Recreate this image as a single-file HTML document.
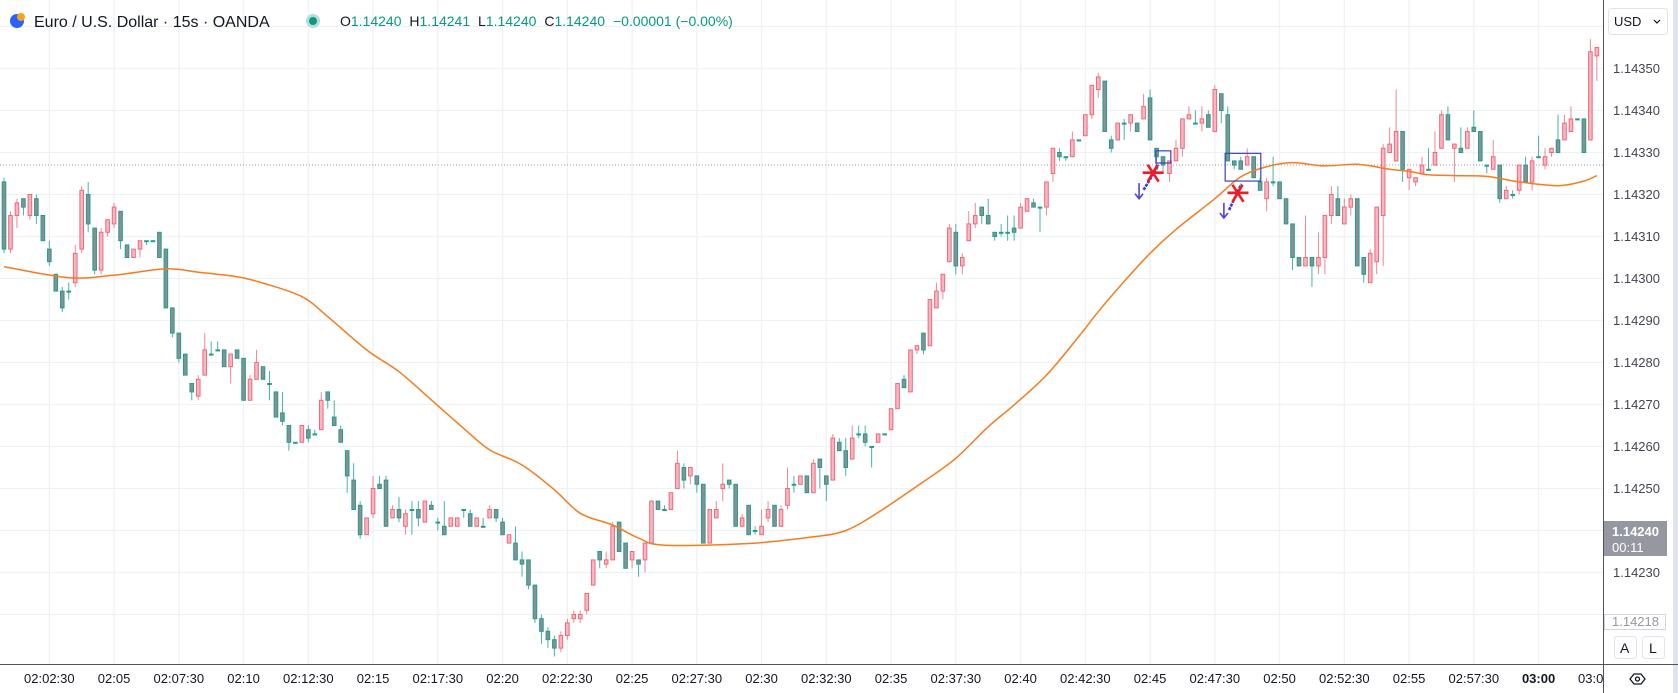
<!DOCTYPE html>
<html><head><meta charset="utf-8"><style>
html,body{margin:0;padding:0;background:#fff;overflow:hidden}
svg{display:block;font-family:"Liberation Sans",sans-serif}
</style></head><body>
<svg id="c" width="1678" height="693" viewBox="0 0 1678 693" xmlns="http://www.w3.org/2000/svg">
<rect x="0" y="0" width="1678" height="693" fill="#ffffff"/>
<g id="grid"></g>
<line x1="0" y1="165" x2="1603" y2="165" stroke="#9598a1" stroke-width="1" stroke-dasharray="1,2"/>
<g id="candles"></g>
<path id="ma" fill="none" stroke="#f57c1f" stroke-width="1.5"/>
<g id="annos"></g>
<rect x="1604" y="0" width="74" height="693" fill="#fff"/>
<rect x="1673" y="0" width="5" height="693" fill="#e0e3eb"/>
<rect x="0" y="665" width="1604" height="28" fill="#fff"/>
<line x1="1603.5" y1="0" x2="1603.5" y2="693" stroke="#50535e" stroke-width="1"/>
<line x1="0" y1="664.5" x2="1678" y2="664.5" stroke="#50535e" stroke-width="1"/>
<g id="yaxis"></g>
<g id="xaxis"></g>
<g>
<rect x="1608.5" y="8.5" width="59" height="26" rx="3" fill="#fff" stroke="#e0e3eb"/>
<text x="1614" y="26" font-size="13" fill="#131722">USD</text>
<path d="M1654 20 l3 3 l3 -3" fill="none" stroke="#131722" stroke-width="1.2"/>
</g>
<g>
<rect x="1604" y="521" width="63" height="35" fill="#9598a1"/>
<text x="1612" y="536" font-size="13" fill="#fff" font-weight="bold">1.14240</text>
<text x="1612" y="552" font-size="13" fill="#fff">00:11</text>
</g>
<g>
<rect x="1604.5" y="614.5" width="61" height="15" fill="#fff" stroke="#d1d4dc"/>
<text x="1612" y="626" font-size="13" fill="#9598a1">1.14218</text>
</g>
<g>
<rect x="1614.5" y="636.5" width="22" height="22" rx="3" fill="#fff" stroke="#e0e3eb"/>
<text x="1620" y="653" font-size="14" fill="#131722">A</text>
</g>
<g>
<rect x="1642.5" y="636.5" width="22" height="22" rx="3" fill="#fff" stroke="#e0e3eb"/>
<text x="1649" y="653" font-size="14" fill="#131722">L</text>
</g>
<g>
<path d="M1630 679 l4 -5 h7 l4 5 l-4 5 h-7 z" fill="none" stroke="#131722" stroke-width="1.3"/>
<circle cx="1637.5" cy="679" r="2" fill="none" stroke="#131722" stroke-width="1.3"/>
</g>
<g>
<circle cx="17" cy="21" r="7" fill="#2962ff"/>
<circle cx="21" cy="17" r="4" fill="#f7a21b"/>
<text x="34" y="27" font-size="16" fill="#131722">Euro / U.S. Dollar · 15s · OANDA</text>
<circle cx="313" cy="21" r="7" fill="#b2dfd9"/>
<circle cx="313" cy="21" r="4" fill="#089981"/>
<text x="340" y="26" font-size="14" fill="#089981"><tspan fill="#131722">O</tspan>1.14240 <tspan fill="#131722" dx="4">H</tspan>1.14241 <tspan fill="#131722" dx="4">L</tspan>1.14240 <tspan fill="#131722" dx="4">C</tspan>1.14240 <tspan dx="4">−0.00001 (−0.00%)</tspan></text>
</g>
</svg>
<script>
const opens=[1.14323,1.14307,1.14315,1.14319,1.14315,1.14319,1.14315,1.14307,1.14301,1.14297,1.14297,1.14299,1.14307,1.14320,1.14312,1.14302,1.14311,1.14313,1.14316,1.14308,1.14305,1.14307,1.14309,1.14309,1.14311,1.14307,1.14293,1.14287,1.14282,1.14275,1.14272,1.14277,1.14282,1.14283,1.14283,1.14279,1.14283,1.14281,1.14271,1.14276,1.14279,1.14275,1.14273,1.14268,1.14265,1.14261,1.14261,1.14264,1.14263,1.14264,1.14273,1.14267,1.14264,1.14259,1.14252,1.14246,1.14239,1.14244,1.14251,1.14252,1.14243,1.14245,1.14241,1.14245,1.14245,1.14242,1.14246,1.14242,1.14241,1.14241,1.14241,1.14245,1.14244,1.14241,1.14241,1.14243,1.14245,1.14242,1.14237,1.14237,1.14233,1.14233,1.14227,1.14219,1.14216,1.14214,1.14212,1.14215,1.14219,1.14219,1.14221,1.14227,1.14235,1.14232,1.14233,1.14242,1.14237,1.14233,1.14233,1.14233,1.14237,1.14247,1.14245,1.14245,1.14250,1.14255,1.14253,1.14253,1.14251,1.14237,1.14243,1.14250,1.14252,1.14251,1.14241,1.14246,1.14240,1.14239,1.14243,1.14246,1.14241,1.14246,1.14251,1.14251,1.14253,1.14249,1.14257,1.14253,1.14252,1.14261,1.14259,1.14257,1.14263,1.14263,1.14260,1.14261,1.14263,1.14264,1.14269,1.14276,1.14273,1.14283,1.14287,1.14284,1.14293,1.14297,1.14304,1.14311,1.14303,1.14309,1.14313,1.14317,1.14315,1.14311,1.14311,1.14311,1.14312,1.14312,1.14316,1.14318,1.14317,1.14317,1.14325,1.14330,1.14329,1.14329,1.14333,1.14334,1.14339,1.14345,1.14347,1.14333,1.14333,1.14337,1.14337,1.14337,1.14338,1.14343,1.14331,1.14329,1.14325,1.14328,1.14331,1.14338,1.14337,1.14337,1.14339,1.14335,1.14344,1.14339,1.14328,1.14328,1.14327,1.14329,1.14323,1.14319,1.14323,1.14323,1.14319,1.14313,1.14305,1.14303,1.14305,1.14303,1.14305,1.14315,1.14319,1.14313,1.14317,1.14319,1.14305,1.14299,1.14304,1.14315,1.14330,1.14328,1.14335,1.14324,1.14323,1.14325,1.14326,1.14327,1.14331,1.14339,1.14331,1.14331,1.14331,1.14336,1.14335,1.14327,1.14326,1.14327,1.14319,1.14320,1.14321,1.14327,1.14323,1.14329,1.14327,1.14330,1.14333,1.14333,1.14335,1.14338,1.14338,1.14333,1.14353];
const highs=[1.14324,1.14316,1.14319,1.14319,1.14320,1.14320,1.14315,1.14309,1.14301,1.14298,1.14299,1.14308,1.14322,1.14323,1.14312,1.14312,1.14314,1.14318,1.14316,1.14308,1.14307,1.14309,1.14309,1.14309,1.14311,1.14307,1.14293,1.14287,1.14282,1.14275,1.14277,1.14287,1.14285,1.14285,1.14283,1.14282,1.14283,1.14281,1.14277,1.14283,1.14279,1.14278,1.14273,1.14273,1.14265,1.14261,1.14265,1.14265,1.14264,1.14273,1.14273,1.14271,1.14265,1.14259,1.14256,1.14247,1.14243,1.14253,1.14253,1.14253,1.14246,1.14248,1.14245,1.14247,1.14247,1.14247,1.14247,1.14243,1.14247,1.14243,1.14243,1.14245,1.14245,1.14243,1.14243,1.14246,1.14245,1.14243,1.14239,1.14241,1.14235,1.14233,1.14227,1.14220,1.14217,1.14215,1.14216,1.14219,1.14221,1.14221,1.14225,1.14233,1.14235,1.14235,1.14242,1.14242,1.14237,1.14235,1.14233,1.14237,1.14247,1.14247,1.14246,1.14249,1.14259,1.14256,1.14255,1.14253,1.14251,1.14245,1.14247,1.14256,1.14252,1.14251,1.14244,1.14246,1.14241,1.14245,1.14247,1.14246,1.14246,1.14255,1.14253,1.14253,1.14253,1.14257,1.14257,1.14253,1.14263,1.14262,1.14262,1.14265,1.14265,1.14265,1.14260,1.14263,1.14263,1.14269,1.14275,1.14277,1.14283,1.14284,1.14287,1.14295,1.14299,1.14301,1.14313,1.14313,1.14306,1.14316,1.14318,1.14317,1.14319,1.14311,1.14313,1.14315,1.14315,1.14318,1.14319,1.14319,1.14317,1.14323,1.14331,1.14331,1.14329,1.14335,1.14333,1.14339,1.14346,1.14349,1.14347,1.14334,1.14337,1.14338,1.14339,1.14337,1.14344,1.14345,1.14331,1.14329,1.14328,1.14333,1.14338,1.14341,1.14340,1.14341,1.14340,1.14346,1.14344,1.14341,1.14328,1.14329,1.14331,1.14329,1.14324,1.14324,1.14329,1.14323,1.14319,1.14313,1.14305,1.14315,1.14305,1.14311,1.14315,1.14322,1.14322,1.14319,1.14320,1.14319,1.14305,1.14307,1.14317,1.14332,1.14336,1.14345,1.14335,1.14326,1.14324,1.14329,1.14331,1.14335,1.14340,1.14341,1.14332,1.14336,1.14336,1.14340,1.14335,1.14327,1.14333,1.14327,1.14322,1.14321,1.14327,1.14329,1.14329,1.14334,1.14331,1.14331,1.14339,1.14339,1.14341,1.14338,1.14338,1.14357,1.14355];
const lows=[1.14306,1.14306,1.14312,1.14315,1.14314,1.14313,1.14309,1.14303,1.14297,1.14292,1.14295,1.14298,1.14306,1.14311,1.14301,1.14301,1.14310,1.14312,1.14307,1.14305,1.14305,1.14305,1.14308,1.14309,1.14305,1.14293,1.14286,1.14280,1.14277,1.14271,1.14271,1.14277,1.14282,1.14283,1.14279,1.14275,1.14281,1.14271,1.14271,1.14276,1.14276,1.14271,1.14267,1.14265,1.14259,1.14261,1.14261,1.14261,1.14263,1.14264,1.14269,1.14265,1.14261,1.14249,1.14245,1.14238,1.14239,1.14243,1.14250,1.14241,1.14243,1.14242,1.14239,1.14239,1.14241,1.14242,1.14245,1.14240,1.14239,1.14241,1.14241,1.14243,1.14241,1.14241,1.14241,1.14243,1.14242,1.14239,1.14237,1.14233,1.14229,1.14226,1.14218,1.14213,1.14212,1.14210,1.14211,1.14214,1.14218,1.14218,1.14220,1.14227,1.14231,1.14231,1.14233,1.14235,1.14231,1.14231,1.14229,1.14230,1.14237,1.14245,1.14245,1.14245,1.14250,1.14250,1.14251,1.14249,1.14237,1.14237,1.14243,1.14247,1.14250,1.14241,1.14241,1.14239,1.14239,1.14239,1.14242,1.14241,1.14241,1.14245,1.14249,1.14251,1.14249,1.14249,1.14250,1.14247,1.14252,1.14259,1.14253,1.14257,1.14262,1.14260,1.14255,1.14261,1.14263,1.14264,1.14269,1.14274,1.14273,1.14282,1.14282,1.14284,1.14293,1.14295,1.14304,1.14301,1.14301,1.14309,1.14312,1.14313,1.14313,1.14309,1.14310,1.14309,1.14309,1.14312,1.14316,1.14317,1.14311,1.14315,1.14323,1.14328,1.14328,1.14329,1.14333,1.14334,1.14338,1.14343,1.14335,1.14330,1.14333,1.14333,1.14335,1.14335,1.14338,1.14333,1.14327,1.14325,1.14323,1.14328,1.14329,1.14338,1.14337,1.14335,1.14336,1.14335,1.14337,1.14328,1.14326,1.14326,1.14327,1.14324,1.14321,1.14316,1.14322,1.14319,1.14313,1.14302,1.14303,1.14303,1.14298,1.14301,1.14301,1.14313,1.14315,1.14313,1.14315,1.14303,1.14299,1.14299,1.14301,1.14303,1.14330,1.14328,1.14323,1.14321,1.14322,1.14325,1.14326,1.14327,1.14331,1.14333,1.14323,1.14330,1.14331,1.14335,1.14328,1.14325,1.14326,1.14318,1.14319,1.14319,1.14320,1.14323,1.14321,1.14329,1.14326,1.14329,1.14330,1.14333,1.14335,1.14338,1.14330,1.14333,1.14347];
const closes=[1.14307,1.14315,1.14318,1.14317,1.14320,1.14315,1.14309,1.14304,1.14297,1.14293,1.14297,1.14306,1.14321,1.14313,1.14302,1.14311,1.14314,1.14317,1.14309,1.14305,1.14307,1.14309,1.14309,1.14309,1.14305,1.14293,1.14287,1.14281,1.14277,1.14273,1.14276,1.14283,1.14282,1.14283,1.14279,1.14282,1.14281,1.14271,1.14276,1.14280,1.14276,1.14275,1.14267,1.14266,1.14261,1.14261,1.14265,1.14262,1.14263,1.14271,1.14271,1.14265,1.14261,1.14253,1.14245,1.14239,1.14243,1.14250,1.14250,1.14241,1.14245,1.14243,1.14244,1.14245,1.14243,1.14247,1.14245,1.14242,1.14239,1.14243,1.14243,1.14245,1.14241,1.14243,1.14241,1.14245,1.14243,1.14239,1.14239,1.14233,1.14232,1.14227,1.14219,1.14216,1.14214,1.14212,1.14215,1.14218,1.14220,1.14220,1.14225,1.14233,1.14233,1.14233,1.14241,1.14235,1.14231,1.14235,1.14232,1.14237,1.14247,1.14245,1.14245,1.14249,1.14256,1.14252,1.14255,1.14251,1.14237,1.14245,1.14245,1.14251,1.14251,1.14241,1.14243,1.14239,1.14240,1.14241,1.14245,1.14241,1.14245,1.14250,1.14251,1.14253,1.14249,1.14256,1.14255,1.14251,1.14262,1.14259,1.14255,1.14262,1.14263,1.14261,1.14260,1.14263,1.14263,1.14269,1.14275,1.14274,1.14283,1.14284,1.14283,1.14295,1.14297,1.14301,1.14312,1.14303,1.14305,1.14313,1.14315,1.14315,1.14313,1.14310,1.14311,1.14311,1.14311,1.14317,1.14319,1.14317,1.14317,1.14323,1.14331,1.14329,1.14329,1.14333,1.14333,1.14339,1.14346,1.14348,1.14335,1.14331,1.14337,1.14337,1.14339,1.14335,1.14341,1.14333,1.14329,1.14327,1.14328,1.14331,1.14338,1.14339,1.14337,1.14338,1.14336,1.14345,1.14340,1.14328,1.14327,1.14326,1.14329,1.14324,1.14321,1.14323,1.14323,1.14319,1.14313,1.14305,1.14303,1.14305,1.14303,1.14305,1.14315,1.14320,1.14315,1.14317,1.14319,1.14303,1.14301,1.14306,1.14317,1.14331,1.14332,1.14335,1.14326,1.14326,1.14324,1.14327,1.14326,1.14330,1.14339,1.14333,1.14332,1.14330,1.14335,1.14335,1.14328,1.14327,1.14329,1.14319,1.14321,1.14320,1.14327,1.14323,1.14328,1.14329,1.14329,1.14331,1.14330,1.14337,1.14338,1.14338,1.14330,1.14354,1.14355];
const maIdx=[0,10,17,25,30,36,40,46,50,56,61,66,71,75,80,85,89,94,98,102,115,125,130,135,142,147,152,156,161,166,169,173,177,181,187,191,195,199,204,209,214,217,220,224,229,234,240,244,246];
const maVals=[1.143028,1.143002,1.143008,1.143023,1.143015,1.143004,1.142989,1.142957,1.142909,1.14283,1.142778,1.142711,1.142643,1.142592,1.142556,1.142497,1.142441,1.142413,1.142382,1.142365,1.142369,1.142385,1.1424,1.142443,1.142516,1.142572,1.142647,1.142699,1.14277,1.142862,1.142921,1.142993,1.14306,1.143117,1.14319,1.143242,1.143266,1.143276,1.143268,1.143272,1.14326,1.143255,1.143247,1.143245,1.143243,1.14323,1.143221,1.143232,1.143245];
const priceTicks=[1.1423,1.1424,1.1425,1.1426,1.1427,1.1428,1.1429,1.143,1.1431,1.1432,1.1433,1.1434,1.1435];
const gridPrices=[1.1422,1.1423,1.1424,1.1425,1.1426,1.1427,1.1428,1.1429,1.143,1.1431,1.1432,1.1433,1.1434,1.1435,1.1436];
const timeLabels=["02:02:30","02:05","02:07:30","02:10","02:12:30","02:15","02:17:30","02:20","02:22:30","02:25","02:27:30","02:30","02:32:30","02:35","02:37:30","02:40","02:42:30","02:45","02:47:30","02:50","02:52:30","02:55","02:57:30","03:00","03:02:30"];
const timeLabelIdx=[7,17,27,37,47,57,67,77,87,97,107,117,127,137,147,157,167,177,187,197,207,217,227,237,247];
const annoBoxes=[[177.9,180.2,1.143304,1.143275],[188.6,194.1,1.143298,1.143232]];
const annoStars=[[177.4,1.143252],[190.5,1.143204]];
const annoLines=[[176.0,1.143211,178.3,1.14327],[189.2,1.143163,191.1,1.143225]];
const annoArrows=[[175.3,1.143227,1.14319],[188.4,1.14318,1.143144]];

const NS="http://www.w3.org/2000/svg";
const PLOT_R=1603;
function xOf(i){return 4+i*6.475;}
function yOf(p){return 68.5+(1.1435-p)*420000;}
function mk(tag,attrs,parent){const e=document.createElementNS(NS,tag);for(const k in attrs)e.setAttribute(k,attrs[k]);parent.appendChild(e);return e;}
const grid=document.getElementById('grid');
gridPrices.forEach(p=>{const l=mk('line',{x1:0,x2:PLOT_R,y1:yOf(p),y2:yOf(p),stroke:'#eef1f5','stroke-width':1.3},grid);

});
timeLabelIdx.forEach(i=>{const x=xOf(i);if(x>PLOT_R)return;const l=mk('line',{x1:x,x2:x,y1:0,y2:664,stroke:'#eef1f5','stroke-width':1.3},grid);

});
const cg=document.getElementById('candles');
for(let i=0;i<opens.length;i++){
 const o=opens[i],c=closes[i],up=c>o;
 const h=Math.max(highs[i],o,c),lo=Math.min(lows[i],o,c);
 const x=xOf(i);
 const stroke=up?'#ef6a78':'#1f9e8d';
 const fill=up?'#f8b6c3':'#8a8f96';
 const g=mk('g',{},cg);
 
 
 const w=mk('line',{x1:x,x2:x,y1:yOf(h),y2:yOf(lo),stroke:stroke,'stroke-width':1,opacity:0.8},g);
 
 
 const yt=yOf(Math.max(o,c)),yb=yOf(Math.min(o,c));
 const b=mk('rect',{x:x-1.8,y:yt,width:3.6,height:Math.max(yb-yt,1),fill:fill,stroke:stroke,'stroke-width':1},g);
 
 
}
const pts=maIdx.map((i,k)=>[xOf(i),yOf(maVals[k])]);
let d='M'+pts[0][0].toFixed(1)+' '+pts[0][1].toFixed(1);
for(let k=0;k<pts.length-1;k++){
 const p0=pts[Math.max(k-1,0)],p1=pts[k],p2=pts[k+1],p3=pts[Math.min(k+2,pts.length-1)];
 const c1x=p1[0]+(p2[0]-p0[0])/6,c1y=p1[1]+(p2[1]-p0[1])/6;
 const c2x=p2[0]-(p3[0]-p1[0])/6,c2y=p2[1]-(p3[1]-p1[1])/6;
 d+=` C${c1x.toFixed(1)} ${c1y.toFixed(1)} ${c2x.toFixed(1)} ${c2y.toFixed(1)} ${p2[0].toFixed(1)} ${p2[1].toFixed(1)}`;
}
document.getElementById('ma').setAttribute('d',d);
const ag=document.getElementById('annos');
annoBoxes.forEach(b=>{const r=mk('rect',{x:xOf(b[0]),y:yOf(b[2]),width:xOf(b[1])-xOf(b[0]),height:yOf(b[3])-yOf(b[2]),fill:'none',stroke:'#3f3fc6','stroke-width':1.2},ag);

});
annoLines.forEach(l=>{const e=mk('line',{x1:xOf(l[0]),y1:yOf(l[1]),x2:xOf(l[2]),y2:yOf(l[3]),stroke:'#3a3ad8','stroke-width':2.6,'stroke-dasharray':'3,1'},ag);

});
annoArrows.forEach(a=>{const x=xOf(a[0]),y1=yOf(a[1]),y2=yOf(a[2]);const e=mk('path',{d:`M${x} ${y1} L${x} ${y2} M${x-4} ${y2-5} L${x} ${y2} L${x+4} ${y2-5}`,fill:'none',stroke:'#5040e0','stroke-width':1.6},ag);

});
annoStars.forEach(s=>{const x=xOf(s[0]),y=yOf(s[1]);const e=mk('path',{d:`M${x-10} ${y} L${x+11} ${y} M${x-5} ${y-8} L${x+6} ${y+9} M${x+5} ${y-8} L${x-5} ${y+9}`,fill:'none',stroke:'#ee1c25','stroke-width':2.6},ag);

});
const ya=document.getElementById('yaxis');
priceTicks.forEach(p=>{const t=mk('text',{x:1613,y:yOf(p)+4.5,'font-size':13,fill:'#434651'},ya);t.textContent=p.toFixed(5);

});
const xa=document.getElementById('xaxis');
const clip=mk('clipPath',{id:'xclip'},xa);mk('rect',{x:0,y:665,width:PLOT_R,height:28},clip);
const xg=mk('g',{'clip-path':'url(#xclip)'},xa);
timeLabels.forEach((s,k)=>{const t=mk('text',{x:xOf(timeLabelIdx[k]),y:683,'font-size':13,fill:'#131722','text-anchor':'middle','font-weight':s==='03:00'?'bold':'normal'},xg);t.textContent=s;

});
</script>
</body></html>
